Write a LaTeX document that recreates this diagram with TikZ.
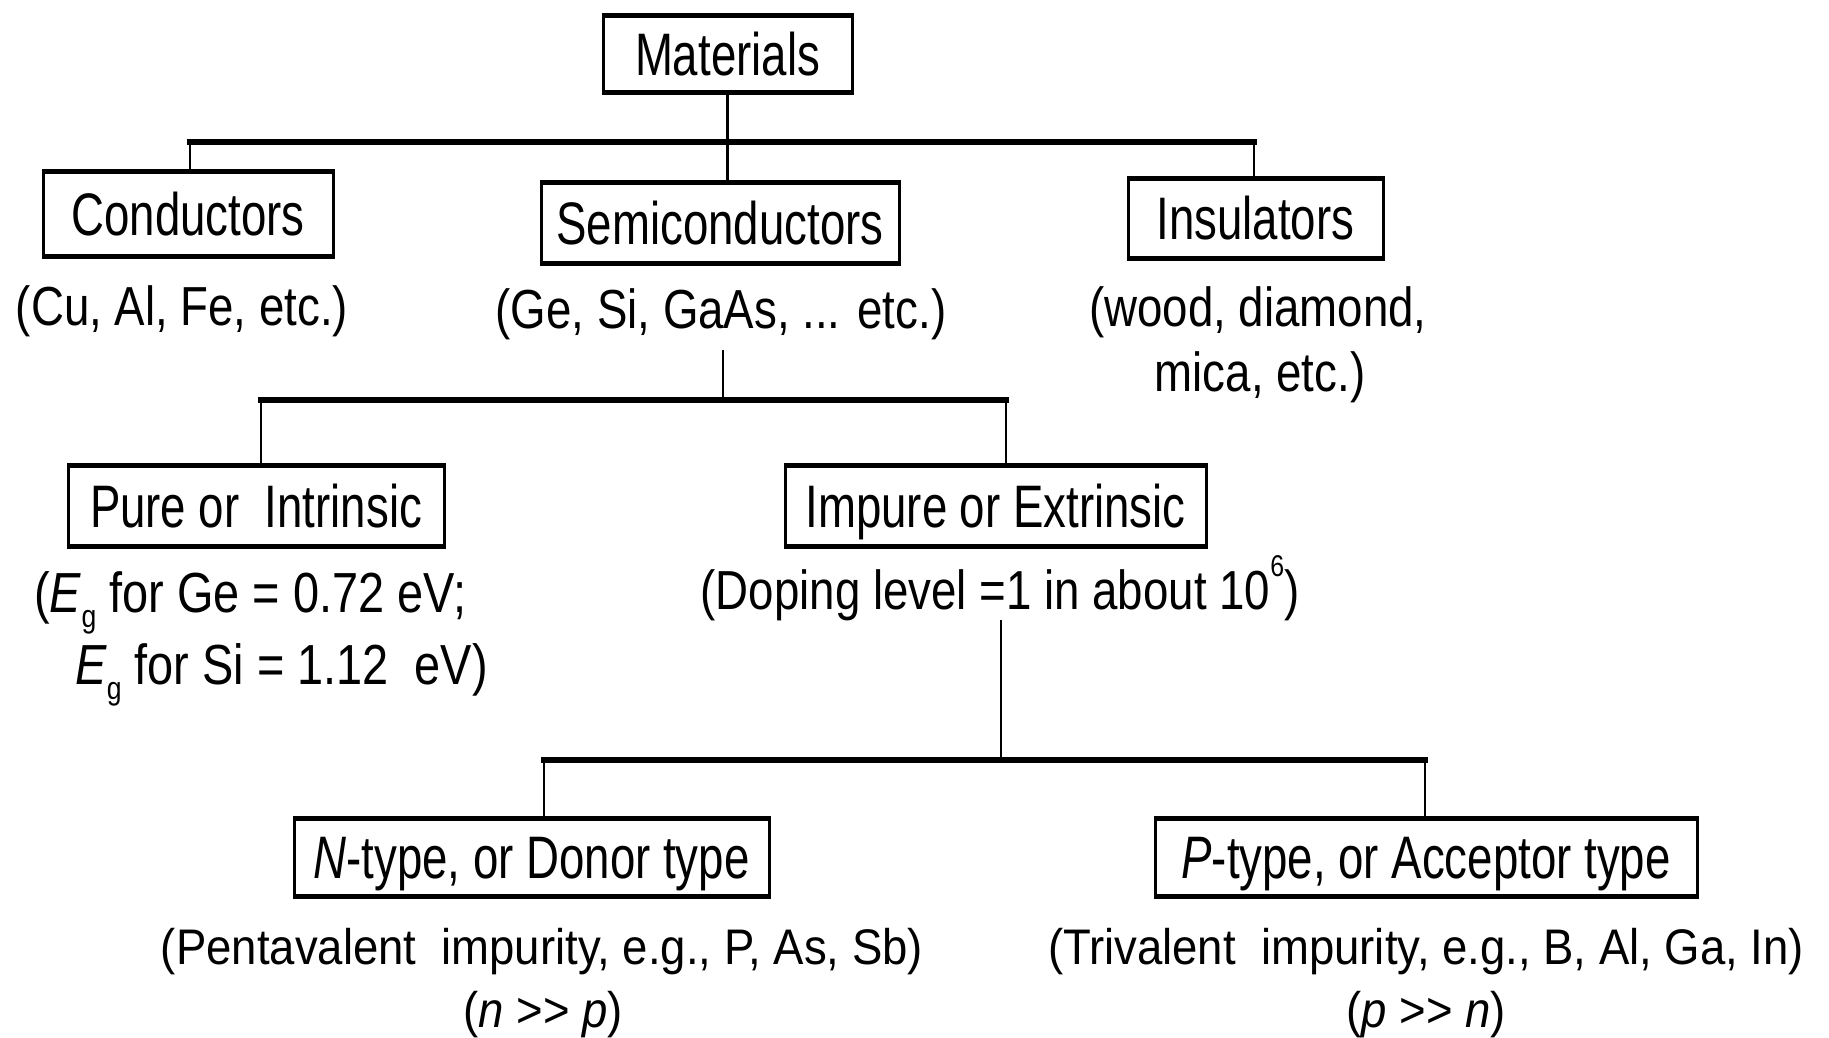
\documentclass[tikz,border=0pt]{standalone}
\usepackage{fontspec}
\setmainfont[FakeStretch=0.76]{Liberation Sans}
\newfontfamily\notefont[FakeStretch=0.83]{Liberation Sans}
\newfontfamily\smallnotefont[FakeStretch=0.91]{Liberation Sans}
\newcommand{\supsix}{\raisebox{0.6em}{\fontsize{30}{30}\selectfont 6}}
\newcommand{\subg}{\raisebox{-0.28em}{\fontsize{32}{32}\selectfont g}}
\begin{document}
\begin{tikzpicture}[x=1pt,y=-1pt,
  box/.style={font=\fontsize{60}{70}\selectfont, inner sep=0pt, draw,
    line width=3pt, text height=43pt, text depth=0pt,
    path picture={
      \draw[line width=7pt] (path picture bounding box.north west) -- (path picture bounding box.north east);
      \draw[line width=7pt] (path picture bounding box.south west) -- (path picture bounding box.south east);}},
  lbl/.style={font=\notefont\fontsize{55}{66}\selectfont, inner sep=0pt, anchor=base},
  lblsmall/.style={font=\smallnotefont\fontsize{50}{60}\selectfont, inner sep=0pt, anchor=base},
  stem/.style={line width=2.5pt},
  bar/.style={line width=5.5pt, line cap=rect}]
\useasboundingbox (0,0) rectangle (1829,1037);

% classification boxes
\node[box, minimum width=249, minimum height=79] (mat)    at (727.5,53.5) {Materials};
\node[box, minimum width=290, minimum height=87] (cond)   at (188,213.5)  {Conductors};
\node[box, minimum width=358, minimum height=83] (semi)   at (720,222.5)  {Semiconductors};
\node[box, minimum width=255, minimum height=82] (ins)    at (1255.5,218) {Insulators};
\node[box, minimum width=376, minimum height=83] (pure)   at (256,505.5)  {Pure or \ Intrinsic};
\node[box, minimum width=421, minimum height=83] (impure) at (995.5,505.5) {Impure or Extrinsic};
\node[box, minimum width=475, minimum height=80] (ntype)  at (531.5,857)  {\textit{N}-type, or Donor type};
\node[box, minimum width=542, minimum height=80] (ptype)  at (1426,857)   {\textit{P}-type, or Acceptor type};

% explanatory notes
\node[lbl] (condl) at (182,325) {(Cu, Al, Fe, etc.)};
\node[lbl] (semil) at (721,328) {(Ge, Si, GaAs, ... etc.)};
\node[lbl] (insl1) at (1258,326) {(wood, diamond,};
\node[lbl] (insl2) at (1260,391) {mica, etc.)};
\node[lbl, anchor=base west, font=\notefont\fontsize{56.5}{68}\selectfont] (eg1) at (34,612) {(\textit{E}\subg{} for Ge = 0.72 eV;};
\node[lbl, anchor=base west, font=\notefont\fontsize{56.5}{68}\selectfont] (eg2) at (75,684) {\textit{E}\subg{} for Si = 1.12 \ eV)};
\node[lbl] (dopl) at (1000,609) {(Doping level =1 in about 10\supsix)};
\node[lblsmall] (pentl) at (542,964) {(Pentavalent \ impurity, e.g., P, As, Sb)};
\node[lblsmall] (npl) at (543,1027) {(\textit{n} {>}{>} \textit{p})};
\node[lblsmall] (trivl) at (1426,964) {(Trivalent \ impurity, e.g., B, Al, Ga, In)};
\node[lblsmall] (pnl) at (1426,1027) {(\textit{p} {>}{>} \textit{n})};

% first level: materials
\coordinate (b1l) at (190,142);
\coordinate (b1r) at (1254,142);
\draw[bar] (b1l) -- (b1r);
\draw[stem] (mat.south) -- (mat.south |- semi.north);
\draw[stem] (b1l) -- (b1l |- cond.north);
\draw[stem] (b1r) -- (b1r |- ins.north);

% second level: semiconductors
\coordinate (s2) at (723,350);
\coordinate (b2l) at (261,400);
\coordinate (b2r) at (1006,400);
\draw[stem] (s2) -- (s2 |- b2l);
\draw[bar] (b2l) -- (b2r);
\draw[stem] (b2l) -- (b2l |- pure.north);
\draw[stem] (b2r) -- (b2r |- impure.north);

% third level: extrinsic
\coordinate (s3) at (1001,620);
\coordinate (b3l) at (544,760);
\coordinate (b3r) at (1425,760);
\draw[stem] (s3) -- (s3 |- b3l);
\draw[bar] (b3l) -- (b3r);
\draw[stem] (b3l) -- (b3l |- ntype.north);
\draw[stem] (b3r) -- (b3r |- ptype.north);
\end{tikzpicture}
\end{document}
